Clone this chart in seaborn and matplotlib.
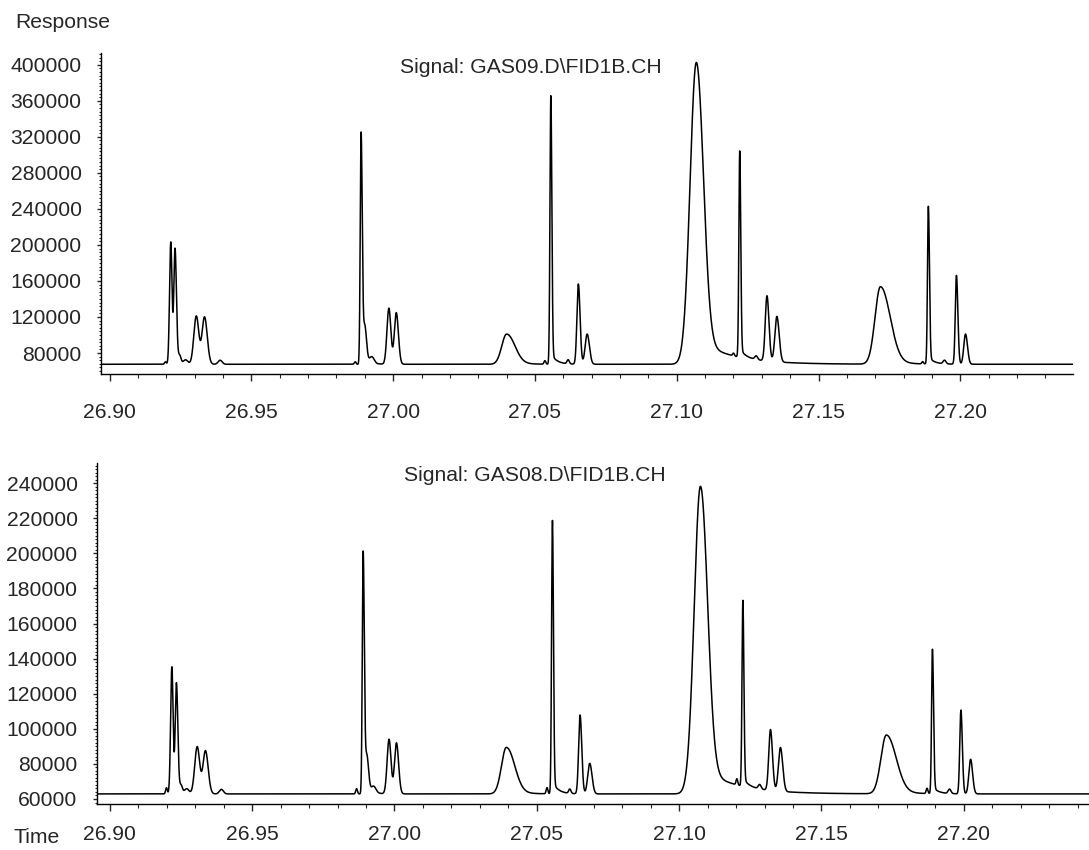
import numpy as np
import pandas as pd
import matplotlib
matplotlib.use("Agg")
import matplotlib.pyplot as plt
from matplotlib.ticker import MultipleLocator, FixedLocator
import seaborn as sns

# ---------------- data ----------------
# peak table: retention time (min), height above baseline, left/right width, tail
top_rt = [26.9197, 26.9216, 26.9231, 26.9247, 26.9268, 26.9306, 26.9335, 26.9390,
          26.9866, 26.9887, 26.9900, 26.9925, 26.9985, 27.0011, 27.0400, 27.0535,
          27.0556, 27.0617, 27.0653, 27.0684, 27.1069, 27.1200, 27.1222, 27.1280,
          27.1318, 27.1353, 27.1718, 27.1867, 27.1887, 27.1944, 27.1986, 27.2018]
top_height = [2800, 135500, 128500, 10000, 5000, 53500, 52500, 4500,
              2800, 256500, 38000, 7000, 62200, 57300, 33500, 3900,
              298000, 4500, 89000, 33500, 335000, 3000, 229000, 4000,
              72500, 50500, 86000, 2500, 175000, 4000, 98500, 33500]
top_tail = [0, 0, 0, 0, 0, 0, 0, 0,
            0, 10000, 0, 0, 0, 0, 4000, 0,
            12000, 0, 0, 0, 28000, 0, 10000, 0,
            0, 0, 8000, 0, 8000, 0, 0, 0]
top_baseline = 67500

bot_rt = [26.9199, 26.9218, 26.9234, 26.9250, 26.9270, 26.9307, 26.9336, 26.9392,
          26.9867, 26.9890, 26.9903, 26.9927, 26.9981, 27.0007, 27.0393, 27.0536,
          27.0555, 27.0616, 27.0652, 27.0686, 27.1075, 27.1203, 27.1224, 27.1283,
          27.1321, 27.1356, 27.1728, 27.1871, 27.1890, 27.1950, 27.1990, 27.2024]
bot_height = [3500, 72400, 63300, 5000, 3000, 26900, 24600, 2600,
              3000, 137800, 19000, 3500, 31100, 29100, 26500, 3500,
              155800, 2500, 44900, 17400, 175300, 3500, 106000, 2500,
              34700, 25000, 33500, 3000, 82300, 2500, 47700, 19700]
bot_tail = [0, 0, 0, 0, 0, 0, 0, 0,
            0, 6000, 0, 0, 0, 0, 3000, 0,
            7000, 0, 0, 0, 15000, 0, 5000, 0,
            0, 0, 3500, 0, 4000, 0, 0, 0]
bot_baseline = 62900

# peak widths (min), shared by both runs
width_left = [0.0003, 0.00043, 0.00043, 0.0005, 0.0008, 0.00087, 0.00087, 0.0007,
              0.0003, 0.0003, 0.0005, 0.0008, 0.00068, 0.00068, 0.0017, 0.0003,
              0.0003, 0.0004, 0.0005, 0.0007, 0.0022, 0.0003, 0.0003, 0.0005,
              0.0006, 0.0007, 0.0019, 0.0003, 0.0003, 0.0005, 0.0004, 0.0006]
width_right = [0.0003, 0.00043, 0.0005, 0.0005, 0.0008, 0.00087, 0.00095, 0.0007,
               0.0003, 0.0004, 0.0006, 0.0008, 0.00068, 0.00075, 0.0028, 0.0003,
               0.00035, 0.0004, 0.0006, 0.0008, 0.0024, 0.0003, 0.00035, 0.0005,
               0.0007, 0.0008, 0.0033, 0.0003, 0.00038, 0.0005, 0.0005, 0.0007]
tail_tau = [0.001, 0.001, 0.001, 0.001, 0.001, 0.001, 0.001, 0.001,
            0.001, 0.002, 0.001, 0.001, 0.001, 0.001, 0.004, 0.001,
            0.002, 0.001, 0.001, 0.001, 0.012, 0.001, 0.002, 0.001,
            0.001, 0.001, 0.005, 0.001, 0.002, 0.001, 0.001, 0.001]

top_yticks = [80000, 120000, 160000, 200000, 240000, 280000, 320000, 360000, 400000]
bot_yticks = [60000, 80000, 100000, 120000, 140000, 160000, 180000, 200000, 220000, 240000]
xticks = [26.90, 26.95, 27.00, 27.05, 27.10, 27.15, 27.20]
top_title = "Signal: GAS09.D\\FID1B.CH"
bot_title = "Signal: GAS08.D\\FID1B.CH"


def trace(rt, height, tail, baseline, t):
    y = np.full_like(t, float(baseline))
    for c, h, sl, sr, a, tau in zip(rt, height, width_left, width_right, tail, tail_tau):
        d = t - c
        s = np.where(d < 0, sl, sr)
        y += h * np.exp(-0.5 * (d / s) ** 2)
        if a:
            dp = np.clip(d, 0, None)
            y += a * np.exp(-dp / tau) * (1 - np.exp(-(dp / sr) ** 2))
    return y


# ---------------- figure ----------------
sns.set_style("ticks")
plt.rcParams["font.family"] = ["Liberation Sans", "DejaVu Sans"]
FS = 15.2

fig = plt.figure(figsize=(10.89, 8.5), dpi=100)
ax1 = fig.add_axes([101 / 1089, 1 - 374 / 850, (1073 - 101) / 1089, (374 - 53) / 850])
ax2 = fig.add_axes([97 / 1089, 1 - 804 / 850, (1089 - 97) / 1089, (804 - 463) / 850])

t = np.arange(26.896, 27.245, 0.00002)

panels = [
    (ax1, top_rt, top_height, top_tail, top_baseline, (26.897, 27.2397), (56700, 413000),
     top_yticks, 4000, top_title, 0.442, 0.956, 16),
    (ax2, bot_rt, bot_height, bot_tail, bot_baseline, (26.8955, 27.244), (57150, 251500),
     bot_yticks, 2000, bot_title, 0.441, 0.962, 10),
]

for ax, rt, h, tl, base, xl, yl, yt, yminor, title, tx, ty, xpad in panels:
    df = pd.DataFrame({"Time": t, "Response": trace(rt, h, tl, base, t)})
    sns.lineplot(data=df, x="Time", y="Response", ax=ax, color="black",
                 linewidth=1.1, estimator=None, sort=False)
    ax.set_xlim(*xl)
    ax.set_ylim(*yl)
    ax.set_xlabel("")
    ax.set_ylabel("")
    ax.xaxis.set_major_locator(FixedLocator(xticks))
    ax.xaxis.set_minor_locator(MultipleLocator(0.01))
    ax.set_xticklabels([f"{v:.2f}" for v in xticks])
    ax.yaxis.set_major_locator(FixedLocator(yt))
    ax.yaxis.set_minor_locator(MultipleLocator(yminor))
    ax.set_yticklabels([str(v) for v in yt])
    ax.tick_params(axis="x", which="major", length=5, width=1, pad=xpad, labelsize=FS)
    ax.tick_params(axis="x", which="minor", length=3, width=0.8)
    ax.tick_params(axis="y", which="major", length=3, width=1, pad=11, labelsize=FS)
    ax.tick_params(axis="y", which="minor", length=1.5, width=0.8)
    for side in ["top", "right"]:
        ax.spines[side].set_visible(False)
    for side in ["left", "bottom"]:
        ax.spines[side].set_linewidth(1.0)
        ax.spines[side].set_color("black")
    ax.text(tx, ty, title, transform=ax.transAxes, ha="center", va="center", fontsize=FS)

fig.text(15 / 1089, 1 - 23 / 850, "Response", ha="left", va="center", fontsize=FS)
fig.text(13 / 1089, 3 / 850, "Time", ha="left", va="bottom", fontsize=FS)

fig.savefig("out.png", dpi=100)
